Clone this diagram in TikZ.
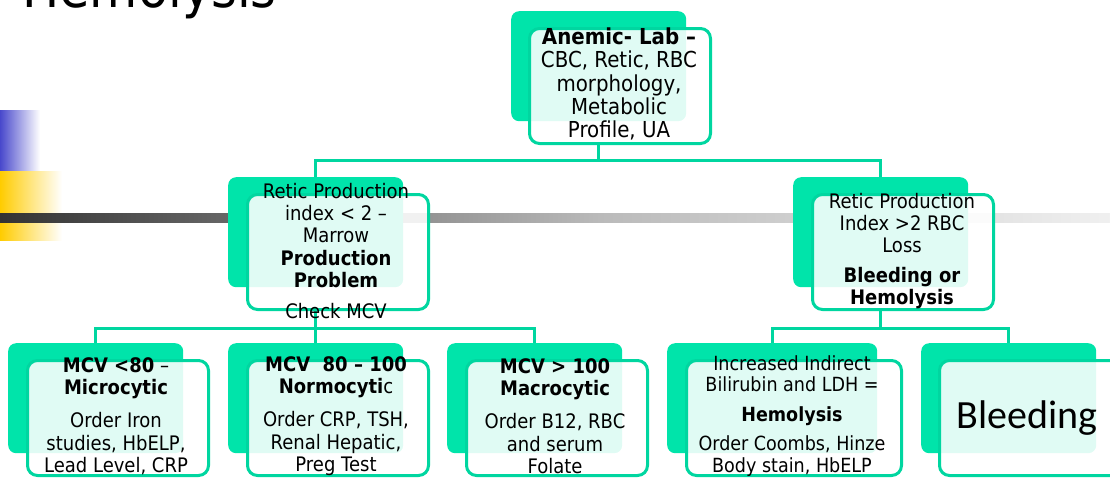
\documentclass[tikz,border=0pt]{standalone}
\usepackage{fontspec}
\setmainfont{DejaVu Sans}[FakeStretch=0.9]
\newfontfamily\calfont{Carlito}
\usetikzlibrary{backgrounds}
\definecolor{boxgreen}{RGB}{0,228,170}
\definecolor{linegreen}{RGB}{0,214,160}
\definecolor{decoblue}{RGB}{72,72,204}
\definecolor{decoyellow}{RGB}{255,204,0}

\begin{document}
\begin{tikzpicture}[x=1pt,y=-1pt]

\tikzset{back/.style = {fill=boxgreen, rounded corners=8pt, anchor=north west, inner sep=0pt, minimum width=175pt, minimum height=110pt}}
\tikzset{front/.style = {draw=linegreen, line width=3pt, fill=white, fill opacity=0.88, rounded corners=10pt, anchor=north west, inner sep=0pt, minimum width=181pt, minimum height=115pt}}
\tikzset{link/.style = {draw=linegreen, line width=3pt}}
\tikzset{txt/.style = {align=center, inner sep=0pt, font=\fontsize{20}{22.3}\selectfont}}

\useasboundingbox (0,0) rectangle (1110,477);

% slide decoration
\node[anchor=base west, inner sep=0pt, font=\fontsize{55}{60}\selectfont] (title) at (22,7) {Hemolysis};
\shade[left color=decoblue, right color=white] (0,110) rectangle (40,170);
\shade[left color=decoyellow, right color=white] (0,171) rectangle (62,240);
\shade[left color=black!80, right color=black!27] (0,213) rectangle (600,222);
\shade[left color=black!27, right color=black!6] (600,213) rectangle (1110,222);

% boxes
\node[back] (top) at (511,11) {};
\node[front] (topf) at (528,27) {};
\node[back] (prod) at (228,177) {};
\node[front] (prodf) at (246,193) {};
\node[back] (loss) at (793,177) {};
\node[front] (lossf) at (811,193) {};
\node[back] (micro) at (8,343) {};
\node[front] (microf) at (26,359) {};
\node[back] (normo) at (228,343) {};
\node[front] (normof) at (246,359) {};
\node[back] (macro) at (447,343) {};
\node[front] (macrof) at (465,359) {};
\node[back, minimum width=210pt] (hemo) at (667,343) {};
\node[front, minimum width=215pt] (hemof) at (685,359) {};
\node[back] (bleed) at (921,343) {};
\node[front] (bleedf) at (938,359) {};

% texts
\node[txt, font=\fontsize{22}{23.3}\selectfont] (topt) at (619,84) {\textbf{Anemic- Lab –}\\CBC, Retic, RBC\\morphology,\\Metabolic\\Profile, UA};
\node[txt] (prodt) at (336,251) {Retic Production\\index < 2 –\\Marrow\\\textbf{Production}\\\textbf{Problem}\\[9pt]Check MCV};
\node[txt] (losst) at (902,251) {Retic Production\\Index >2 RBC\\Loss\\[7pt]\textbf{Bleeding or}\\\textbf{Hemolysis}};
\node[txt] (microt) at (116,416) {\textbf{MCV <80} –\\\textbf{Microcytic}\\[11pt]Order Iron\\studies, HbELP,\\Lead Level, CRP};
\node[txt] (normot) at (336,416) {\textbf{MCV\ \ 80 – 100}\\\textbf{Normocyti}c\\[11pt]Order CRP, TSH,\\Renal Hepatic,\\Preg Test};
\node[txt] (macrot) at (555,416) {\textbf{MCV > 100}\\\textbf{Macrocytic}\\[11pt]Order B12, RBC\\and serum\\Folate};
\node[txt, font=\fontsize{19.5}{21.5}\selectfont] (hemot) at (792,416) {Increased Indirect\\Bilirubin and LDH =\\[8pt]\textbf{Hemolysis}\\[8pt]Order Coombs, Hinze\\Body stain, HbELP};
\node[txt, font=\calfont\fontsize{40}{44}\selectfont] (bleedt) at (1027,418) {Bleeding};

% connectors
\begin{pgfonlayer}{background}
\draw[link] (top.south |- topf.south) -- ++(0,15) -| (prod.north);
\draw[link] (top.south |- topf.south) -- ++(0,15) -| (loss.north);
\draw[link] (prod.south |- prodf.south) -- ++(0,17) -| (micro.north);
\draw[link] (prod.south |- prodf.south) -- ++(0,17) -| (normo.north);
\draw[link] (prod.south |- prodf.south) -- ++(0,17) -| (macro.north);
\draw[link] (loss.south |- lossf.south) -- ++(0,17) -| (hemo.north);
\draw[link] (loss.south |- lossf.south) -- ++(0,17) -| (bleed.north);
\end{pgfonlayer}
\end{tikzpicture}
\end{document}
